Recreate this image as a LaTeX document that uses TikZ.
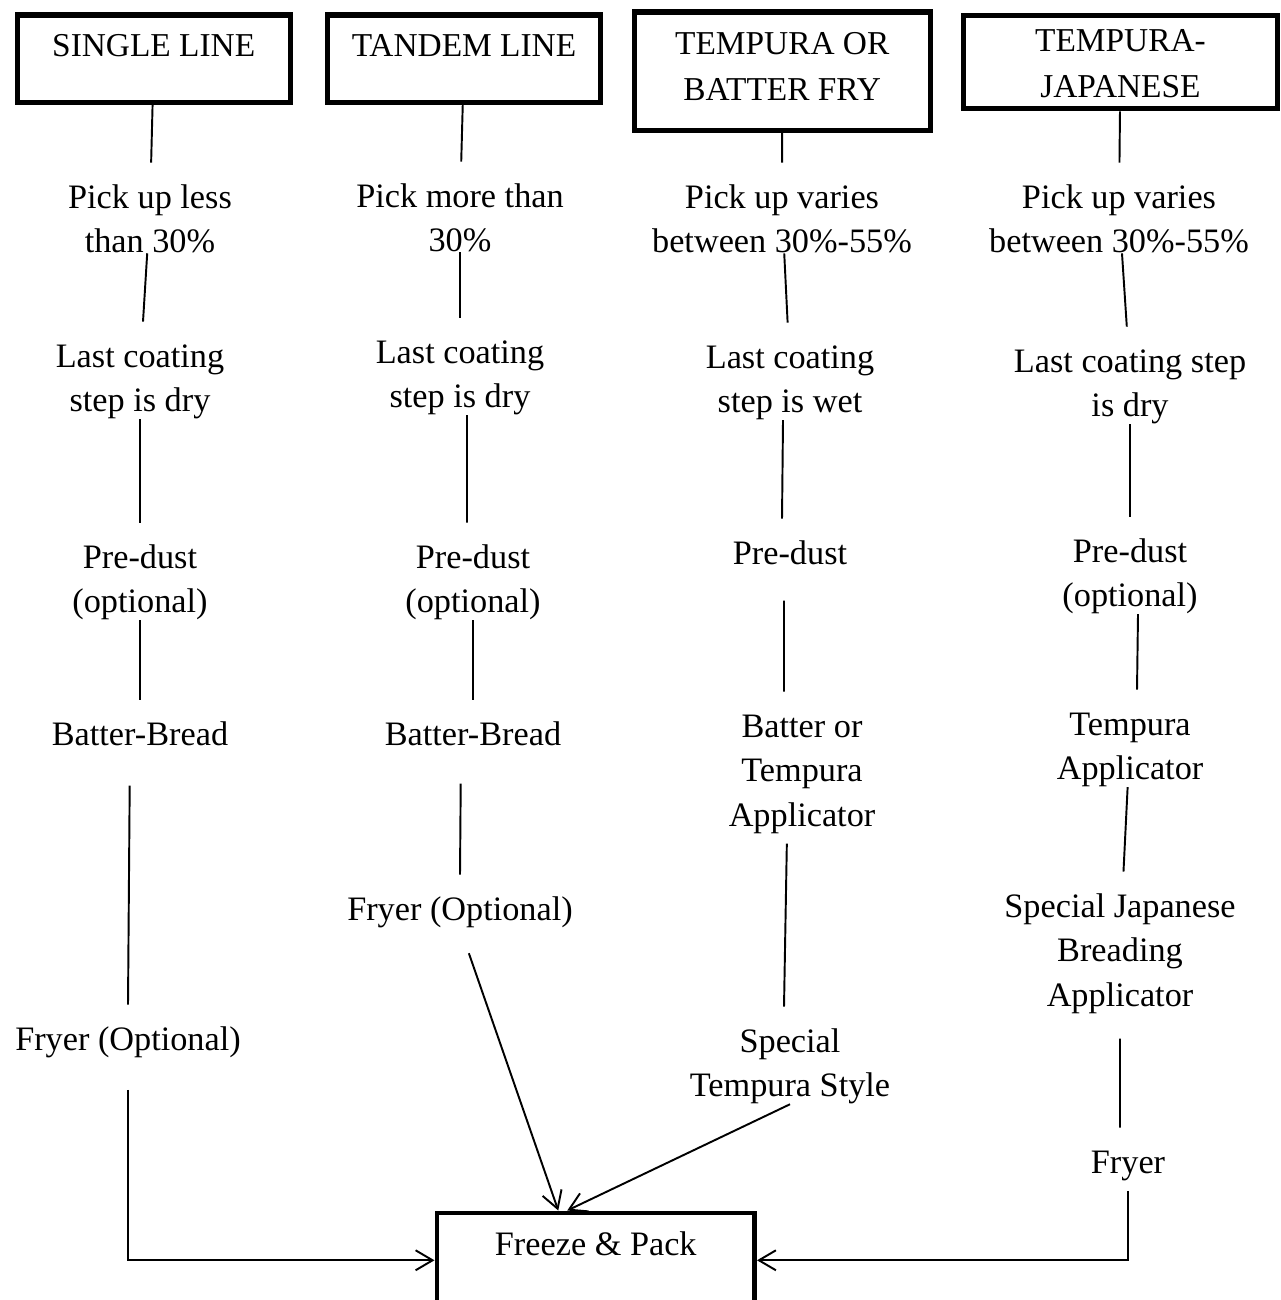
\documentclass[tikz,border=0pt]{standalone}
\usepackage{fontspec}
\setmainfont{Liberation Serif}
\usetikzlibrary{arrows.meta, calc}

\newcommand{\headfont}{\fontsize{19}{26}\selectfont}
\newcommand{\bodyfont}{\fontsize{19.5}{25.3}\selectfont}

\begin{document}
\begin{tikzpicture}[
    x=0.02cm, y=-0.02cm,
    head/.style={draw, line width=2.85pt, inner sep=0pt, anchor=north west, align=center, font=\headfont},
    stage/.style={inner sep=0pt, align=center, anchor=base, text height=0.9cm, font=\bodyfont},
    stage2/.style={stage, text height=1.79cm},
    stage3/.style={stage, text height=2.68cm},
    sink/.style={draw, line width=2.6pt, inner sep=0pt, anchor=north west, font=\bodyfont, minimum width=6.36cm, text height=0.85cm, text depth=1.05cm},
    link/.style={line width=1.1pt},
    arr/.style={link, -{Straight Barb[length=0.34cm, width=0.4cm]}},
]
\useasboundingbox (0,0) rectangle (1280,1300);

% coating lines
\node[head, minimum width=5.47cm, text height=0.83cm, text depth=0.92cm] (single) at (14.5,12.5) {SINGLE LINE};
\node[head, minimum width=5.46cm, text height=0.83cm, text depth=0.92cm] (tandem) at (325,12.5) {TANDEM LINE};
\node[head, minimum width=5.93cm, text height=1.77cm, text depth=0.6cm] (batter) at (631.5,9.5) {TEMPURA OR\\BATTER FRY};
\node[head, minimum width=6.28cm, text height=1.64cm, text depth=0.23cm] (japan) at (961,13) {TEMPURA-\\JAPANESE};

% single line
\node[stage2] (pick1) at (150,252.5) {Pick up less\\than 30\%};
\node[stage2] (coat1) at (140,411.5) {Last coating\\step is dry};
\node[stage2] (dust1) at (140,612.5) {Pre-dust\\(optional)};
\node[stage] (bread1) at (140,745) {Batter-Bread};
\node[stage] (fry1) at (128,1050) {Fryer (Optional)};

% tandem line
\node[stage2] (pick2) at (460,251.5) {Pick more than\\30\%};
\node[stage2] (coat2) at (460,407.5) {Last coating\\step is dry};
\node[stage2] (dust2) at (473,612.5) {Pre-dust\\(optional)};
\node[stage] (bread2) at (473,745) {Batter-Bread};
\node[stage] (fry2) at (460,920) {Fryer (Optional)};

% tempura or batter fry
\node[stage2] (pick3) at (782,252.5) {Pick up varies\\between 30\%-55\%};
\node[stage2] (coat3) at (790,412.5) {Last coating\\step is wet};
\node[stage] (dust3) at (790,564) {Pre-dust};
\node[stage3] (app3) at (802,826) {Batter or\\Tempura\\Applicator};
\node[stage2] (style3) at (790,1096.5) {Special\\Tempura Style};

% tempura-japanese
\node[stage2] (pick4) at (1119,252.5) {Pick up varies\\between 30\%-55\%};
\node[stage2] (coat4) at (1130,416.5) {Last coating step\\is dry};
\node[stage2] (dust4) at (1130,606.5) {Pre-dust\\(optional)};
\node[stage2] (app4) at (1130,779.5) {Tempura\\Applicator};
\node[stage3] (bread4) at (1120,1006) {Special Japanese\\Breading\\Applicator};
\node[stage] (fry4) at (1128,1173) {Fryer};

\node[sink] (pack) at (434.5,1210.5) {Freeze \& Pack};

\draw[link] (single) -- (pick1);
\draw[link] (pick1) -- (coat1);
\draw[link] (coat1) -- (dust1);
\draw[link] (dust1) -- (bread1);
\draw[link, shorten <=0.8cm] ([xshift=-0.2cm]bread1.south) -- (fry1.north);
\draw[arr, shorten <=0.64cm] (fry1) |- (pack);

\draw[link] (tandem) -- (pick2);
\draw[link] (pick2) -- (coat2);
\draw[link] ([xshift=0.14cm]coat2.south) -- ([xshift=-0.12cm]dust2.north);
\draw[link] (dust2) -- (bread2);
\draw[link, shorten <=0.76cm] ([xshift=-0.24cm]bread2.south) -- (fry2.north);
\draw[arr, shorten <=0.54cm] (fry2.south) -- ([xshift=-0.75cm]pack.north);

\draw[link] (batter) -- (pick3);
\draw[link] (pick3) -- (coat3);
\draw[link] ([xshift=-0.14cm]coat3.south) -- ([xshift=-0.16cm]dust3.north);
\draw[link, shorten <=0.72cm] ([xshift=-0.12cm]dust3.south) -- ([xshift=-0.36cm]app3.north);
\draw[link, shorten <=0.2cm] ([xshift=-0.3cm]app3.south) -- ([xshift=-0.12cm]style3.north);
\draw[arr] (style3.south) -- ([xshift=-0.57cm]pack.north);

\draw[link] (japan) -- (pick4);
\draw[link] (pick4) -- (coat4);
\draw[link] (coat4) -- (dust4);
\draw[link] ([xshift=0.16cm]dust4.south) -- ([xshift=0.14cm]app4.north);
\draw[link] (app4) -- (bread4);
\draw[link, shorten <=0.5cm] (bread4.south) -- ([xshift=-0.16cm]fry4.north);
\draw[arr, shorten <=0.2cm] (fry4) |- (pack);
\end{tikzpicture}
\end{document}
